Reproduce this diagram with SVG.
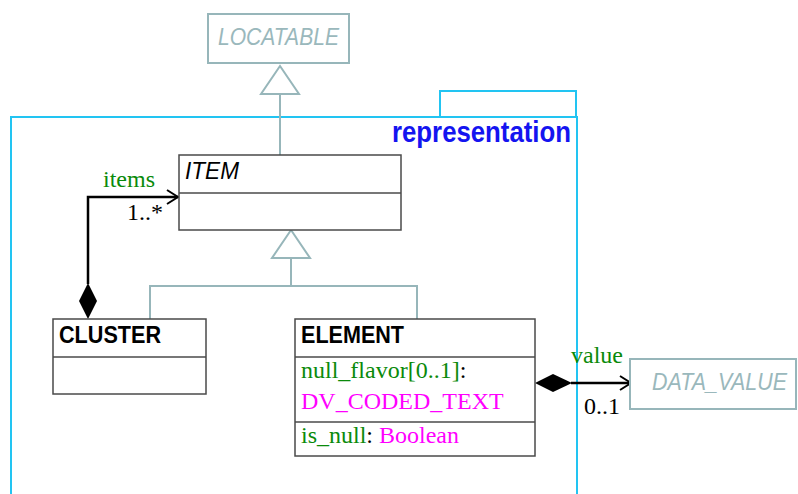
<svg xmlns="http://www.w3.org/2000/svg" width="798" height="494" viewBox="0 0 798 494">
  <style>
    .cls { fill: #ffffff; stroke: #4a4a4a; stroke-width: 1.5; }
    .ext { fill: #ffffff; stroke: #97b6ba; stroke-width: 2; }
    .gen { fill: none; stroke: #97b6ba; stroke-width: 2; }
    .pkg { fill: none; stroke: #22c4f2; stroke-width: 2; }
    .assoc { fill: none; stroke: #000000; stroke-width: 2.5; }
    .sans { font-family: "Liberation Sans", Arial, sans-serif; }
    .serif { font-family: "Liberation Serif", "Times New Roman", serif; font-size: 24px; }
    .name { font-size: 23px; font-weight: bold; fill: #000000; }
    .abs { font-size: 23px; font-style: italic; fill: #000000; }
    .extname { font-size: 24px; font-style: italic; fill: #9ab8bc; }
    .attr { fill: #0a8a0a; }
    .type { fill: #ff00ff; }
    .mult { fill: #000000; }
  </style>
  <defs>
    <marker id="open-arrow" markerWidth="14" markerHeight="16" refX="12" refY="8" orient="auto" markerUnits="userSpaceOnUse">
      <path d="M1,1 L12,8 L1,15" fill="none" stroke="#000000" stroke-width="2"/>
    </marker>
  </defs>

  <!-- package frame -->
  <g id="package-representation">
    <rect class="pkg" x="440" y="91" width="136" height="26"/>
    <path class="pkg" d="M11,500 L11,117 L577,117 L577,500"/>
    <text class="sans" x="392" y="142" font-size="30" font-weight="bold" fill="#1414f0" textLength="179" lengthAdjust="spacingAndGlyphs">representation</text>
  </g>

  <!-- connectors -->
  <g id="connectors">
    <!-- ITEM inherits LOCATABLE -->
    <line class="gen" x1="280" y1="94" x2="280" y2="155"/>
    <polygon class="gen" points="280,66 261,94 299,94" fill="#ffffff"/>
    <!-- CLUSTER, ELEMENT inherit ITEM -->
    <polygon class="gen" points="291,230 272,258 310,258" fill="#ffffff"/>
    <line class="gen" x1="291" y1="258" x2="291" y2="286"/>
    <path class="gen" d="M150,319 L150,286 L417,286 L417,319"/>
    <!-- CLUSTER.items composition -->
    <path class="assoc" d="M88,284 L88,197 L178,197" marker-end="url(#open-arrow)"/>
    <polygon points="88,283 97,301 88,319 79,301" fill="#000000"/>
    <text class="serif attr" x="103" y="187">items</text>
    <text class="serif mult" x="127" y="220">1..*</text>
    <!-- ELEMENT.value composition -->
    <path class="assoc" d="M571,383 L631,383" marker-end="url(#open-arrow)"/>
    <polygon points="535,383 553,374 572,383 553,392" fill="#000000"/>
    <text class="serif attr" x="571" y="363">value</text>
    <text class="serif mult" x="584" y="414">0..1</text>
  </g>

  <g id="LOCATABLE">
    <rect class="ext" x="208" y="14" width="141" height="49"/>
    <text class="sans extname" x="218" y="45" textLength="121" lengthAdjust="spacingAndGlyphs">LOCATABLE</text>
  </g>

  <g id="ITEM">
    <rect class="cls" x="179" y="155" width="222" height="75"/>
    <line class="cls" x1="179" y1="193" x2="401" y2="193"/>
    <text class="sans abs" x="185" y="179" textLength="54" lengthAdjust="spacingAndGlyphs">ITEM</text>
  </g>

  <g id="CLUSTER">
    <rect class="cls" x="53" y="319" width="153" height="75"/>
    <line class="cls" x1="53" y1="357" x2="206" y2="357"/>
    <text class="sans name" x="59" y="343" textLength="102" lengthAdjust="spacingAndGlyphs">CLUSTER</text>
  </g>

  <g id="ELEMENT">
    <rect class="cls" x="295" y="319" width="240" height="137"/>
    <line class="cls" x1="295" y1="357" x2="535" y2="357"/>
    <line class="cls" x1="295" y1="422" x2="535" y2="422"/>
    <text class="sans name" x="301" y="343" textLength="103" lengthAdjust="spacingAndGlyphs">ELEMENT</text>
    <text class="serif" x="301" y="378"><tspan class="attr">null_flavor[0..1]</tspan><tspan class="mult">:</tspan></text>
    <text class="serif type" x="301" y="409">DV_CODED_TEXT</text>
    <text class="serif" x="301" y="443"><tspan class="attr">is_null</tspan><tspan class="mult">: </tspan><tspan class="type">Boolean</tspan></text>
  </g>

  <g id="DATA_VALUE">
    <rect class="ext" x="630" y="359" width="166" height="50"/>
    <text class="sans extname" x="652" y="390" font-size="22" textLength="135" lengthAdjust="spacingAndGlyphs">DATA_VALUE</text>
  </g>
</svg>
